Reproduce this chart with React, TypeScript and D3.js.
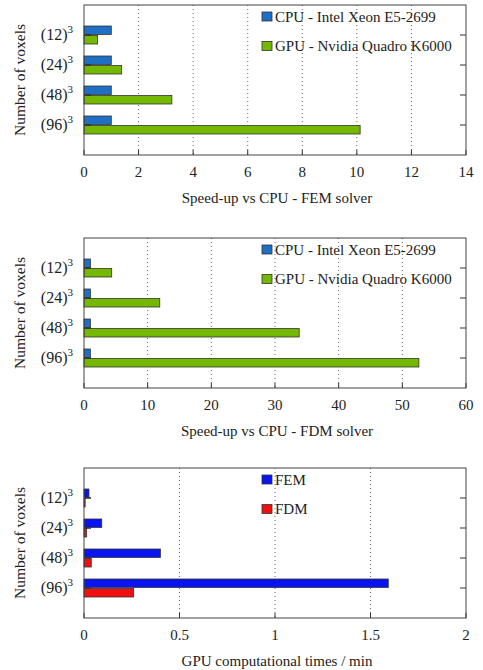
import React from "react";
import * as d3 from "d3";

const categories = ["12", "24", "48", "96"];

const femCpu = [1, 1, 1, 1];
const femGpu = [0.5, 1.38, 3.22, 10.12];
const femTicks = [0, 2, 4, 6, 8, 10, 12, 14];

const fdmCpu = [1, 1, 1, 1];
const fdmGpu = [4.35, 11.9, 33.8, 52.6];
const fdmTicks = [0, 10, 20, 30, 40, 50, 60];

const timeFem = [0.026, 0.093, 0.4, 1.593];
const timeFdm = [0.006, 0.014, 0.038, 0.26];
const timeTicks = [0, 0.5, 1, 1.5, 2];

const W = 483;
const H = 670;
const X0 = 84;
const X1 = 466;
const PH = 150;
const FONT = "'Liberation Serif', 'Times New Roman', serif";

type Series = { name: string; values: number[]; color: string };

function Panel({
  top,
  xMax,
  ticks,
  series,
  title,
}: {
  top: number;
  xMax: number;
  ticks: number[];
  series: Series[];
  title: string;
}) {
  const x = d3.scaleLinear().domain([0, xMax]).range([X0, X1]);
  const y = d3.scaleLinear().domain([0, 5]).range([top, top + PH]);
  const sub = d3
    .scaleBand<string>()
    .domain(series.map((s) => s.name))
    .range([-9, 9])
    .paddingInner(0.12);
  const bottom = top + PH;
  return (
    <g>
      {ticks.slice(1, -1).map((t) => (
        <line
          key={"g" + t}
          x1={x(t)}
          x2={x(t)}
          y1={top}
          y2={bottom}
          stroke="#666"
          strokeWidth={1}
          strokeDasharray="1,3"
        />
      ))}
      {ticks.map((t) => (
        <g key={"t" + t}>
          <line x1={x(t)} x2={x(t)} y1={bottom} y2={bottom - 5} stroke="#333" />
          <text
            x={x(t)}
            y={bottom + 22}
            textAnchor="middle"
            fontSize={15}
            fontFamily={FONT}
            fill="#222"
          >
            {t}
          </text>
        </g>
      ))}
      {categories.map((c, i) => (
        <line
          key={"rt" + c}
          x1={X1}
          x2={X1 - 6}
          y1={y(i + 1)}
          y2={y(i + 1)}
          stroke="#333"
        />
      ))}
      {series.map((s) =>
        s.values.map((v, i) => (
          <rect
            key={s.name + i}
            x={x(0)}
            y={y(i + 1) + (sub(s.name) as number)}
            width={Math.max(x(v) - x(0), 0.5)}
            height={sub.bandwidth()}
            fill={s.color}
            stroke="#333"
            strokeWidth={0.8}
          />
        ))
      )}
      {categories.map((c, i) => (
        <rect
          key={"dk" + c}
          x={x(0)}
          y={y(i + 1) - 0.8}
          width={7}
          height={1.6}
          fill="#333"
        />
      ))}
      <rect
        x={X0}
        y={top}
        width={X1 - X0}
        height={PH}
        fill="none"
        stroke="#444"
        strokeWidth={1}
      />
      {categories.map((c, i) => (
        <text
          key={"cl" + c}
          x={73}
          y={y(i + 1) + 5}
          textAnchor="end"
          fontSize={16}
          fontFamily={FONT}
          fill="#222"
        >
          ({c})
          <tspan dy={-7} fontSize={11}>
            3
          </tspan>
        </text>
      ))}
      <text
        transform={`translate(25,${top + 75}) rotate(-90)`}
        textAnchor="middle"
        fontSize={15.5}
        fontFamily={FONT}
        fill="#222"
      >
        Number of voxels
      </text>
      <text
        x={(X0 + X1) / 2 + 2}
        y={top + 198}
        textAnchor="middle"
        fontSize={15}
        fontFamily={FONT}
        fill="#222"
      >
        {title}
      </text>
      {series.map((s, k) => (
        <g key={"lg" + s.name}>
          <rect
            x={262}
            y={top + 7 + k * 29.5}
            width={10}
            height={9}
            fill={s.color}
            stroke="#333"
            strokeWidth={0.8}
          />
          <text
            x={275}
            y={top + 16.5 + k * 29.5}
            fontSize={15}
            fontFamily={FONT}
            fill="#222"
          >
            {s.name}
          </text>
        </g>
      ))}
    </g>
  );
}

export default function App() {
  const cpuName = "CPU - Intel Xeon E5-2699";
  const gpuName = "GPU - Nvidia Quadro K6000";
  return (
    <svg
      width={W}
      height={H}
      style={{ position: "absolute", left: 0, top: 0, background: "#fff" }}
    >
      <rect width={W} height={H} fill="#fff" />
      <Panel
        top={5}
        xMax={14}
        ticks={femTicks}
        title="Speed-up vs CPU - FEM solver"
        series={[
          { name: cpuName, values: femCpu, color: "#1f6fc4" },
          { name: gpuName, values: femGpu, color: "#74b800" },
        ]}
      />
      <Panel
        top={238}
        xMax={60}
        ticks={fdmTicks}
        title="Speed-up vs CPU - FDM solver"
        series={[
          { name: cpuName, values: fdmCpu, color: "#1f6fc4" },
          { name: gpuName, values: fdmGpu, color: "#74b800" },
        ]}
      />
      <Panel
        top={468}
        xMax={2}
        ticks={timeTicks}
        title="GPU computational times / min"
        series={[
          { name: "FEM", values: timeFem, color: "#0a14f0" },
          { name: "FDM", values: timeFdm, color: "#f01010" },
        ]}
      />
    </svg>
  );
}
